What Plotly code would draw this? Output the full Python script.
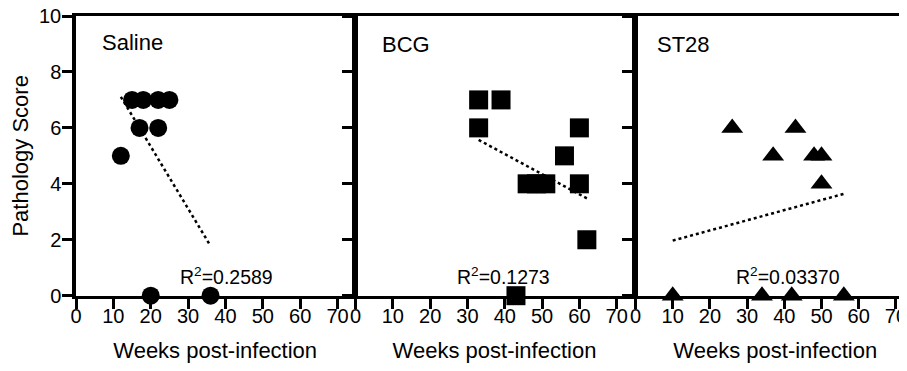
import plotly.graph_objects as go

# ---- data ----
ticks_x = [0, 10, 20, 30, 40, 50, 60, 70]
ticks_y = [0, 2, 4, 6, 8, 10]

saline_x = [12, 15, 18, 22, 25, 17, 22, 20, 36]
saline_y = [5, 7, 7, 7, 7, 6, 6, 0, 0]
saline_fit_x = [12, 36]
saline_fit_y = [7.11, 1.78]
saline_r2 = "R<sup>2</sup>=0.2589"

bcg_x = [33, 39, 33, 60, 56, 46, 48.5, 51, 60, 62, 43]
bcg_y = [7, 7, 6, 6, 5, 4, 4, 4, 4, 2, 0]
bcg_fit_x = [33, 62]
bcg_fit_y = [5.57, 3.48]
bcg_r2 = "R<sup>2</sup>=0.1273"

st28_x = [26, 43, 37, 48, 50, 50, 10, 34, 42, 56]
st28_y = [6, 6, 5, 5, 5, 4, 0, 0, 0, 0]
st28_fit_x = [10, 56]
st28_fit_y = [1.97, 3.64]
st28_r2 = "R<sup>2</sup>=0.03370"

group_names = ["Saline", "BCG", "ST28"]

# ---- layout geometry (screen pixels; page body adds an 8px offset) ----
W, H = 907, 371
OFF = 8
FONT = "Liberation Sans, Arial, sans-serif"

def fx(px):
    return (px - OFF) / W

def fy(py):
    return 1 - (py - OFF) / H

y_dom = [fy(295.7), fy(16)]
panels = [
    dict(name=group_names[0], x=saline_x, y=saline_y, sym="circle", size=18,
         fx_=saline_fit_x, fy_=saline_fit_y, r2=saline_r2,
         dom=[fx(76), fx(354.4)], xmax=74.5, mirror=True,
         lab=(100, 42), r2pos=(226, 276)),
    dict(name=group_names[1], x=bcg_x, y=bcg_y, sym="square", size=19,
         fx_=bcg_fit_x, fy_=bcg_fit_y, r2=bcg_r2,
         dom=[fx(355.5), fx(633.5)], xmax=74.5, mirror=True,
         lab=(380, 45), r2pos=(503, 276)),
    dict(name=group_names[2], x=st28_x, y=st28_y, sym="triangle-up", size=19,
         fx_=st28_fit_x, fy_=st28_fit_y, r2=st28_r2,
         dom=[fx(635.5), 1.0], xmax=(W + OFF - 635.5) / 3.72, mirror=False,
         lab=(655, 44), r2pos=(788, 276)),
]

fig = go.Figure()
annotations = []
for i, p in enumerate(panels):
    sfx = "" if i == 0 else str(i + 1)
    xa, ya = "x" + sfx, "y" + sfx
    fig.add_trace(go.Scatter(
        x=p["fx_"], y=p["fy_"], mode="lines", xaxis=xa, yaxis=ya,
        line=dict(color="black", width=2.5, dash="dot"), showlegend=False,
        hoverinfo="skip"))
    fig.add_trace(go.Scatter(
        x=p["x"], y=p["y"], mode="markers", xaxis=xa, yaxis=ya,
        marker=dict(symbol=p["sym"], size=p["size"], color="black",
                    line=dict(width=0)),
        cliponaxis=False, showlegend=False, name=p["name"]))
    common_x = dict(
        domain=p["dom"], range=[0, p["xmax"]], tickvals=ticks_x,
        showline=True, linewidth=3, linecolor="black", mirror=True,
        ticks="outside", ticklen=10, tickwidth=3, tickcolor="black",
        showgrid=False, zeroline=False, automargin=False,
        ticklabelstandoff=-10, ticklabeloverflow="allow",
        tickfont=dict(family=FONT, size=20, color="black"),
        title=dict(text="Weeks post-infection", standoff=17,
                   font=dict(family=FONT, size=22, color="black")),
        anchor=ya, fixedrange=True)
    common_y = dict(
        domain=y_dom, range=[0, 10], tickvals=ticks_y,
        showline=True, linewidth=3.5, linecolor="black", mirror=p["mirror"],
        ticks="outside", ticklen=10, tickwidth=3, tickcolor="black",
        showgrid=False, zeroline=False, showticklabels=(i == 0),
        automargin=False, ticklabelstandoff=-3, ticklabeloverflow="allow",
        tickfont=dict(family=FONT, size=20, color="black"),
        anchor=xa, fixedrange=True)
    if i == 0:
        common_y["title"] = dict(text="Pathology Score", standoff=18,
                                 font=dict(family=FONT, size=22, color="black"))
    fig.update_layout(**{"xaxis" + sfx: common_x, "yaxis" + sfx: common_y})
    annotations.append(dict(
        text=p["name"], xref="paper", yref="paper",
        x=fx(p["lab"][0]), y=fy(p["lab"][1]), xanchor="left", yanchor="middle",
        showarrow=False, font=dict(family=FONT, size=22, color="black")))
    annotations.append(dict(
        text=p["r2"], xref="paper", yref="paper",
        x=fx(p["r2pos"][0]), y=fy(p["r2pos"][1]), xanchor="center",
        yanchor="middle", showarrow=False,
        font=dict(family=FONT, size=19.5, color="black")))

fig.update_layout(
    width=W, height=H, margin=dict(l=0, r=0, t=0, b=0, autoexpand=False),
    paper_bgcolor="white", plot_bgcolor="white",
    annotations=annotations, showlegend=False,
    font=dict(family=FONT, color="black"))

fig.write_html("out.html")
